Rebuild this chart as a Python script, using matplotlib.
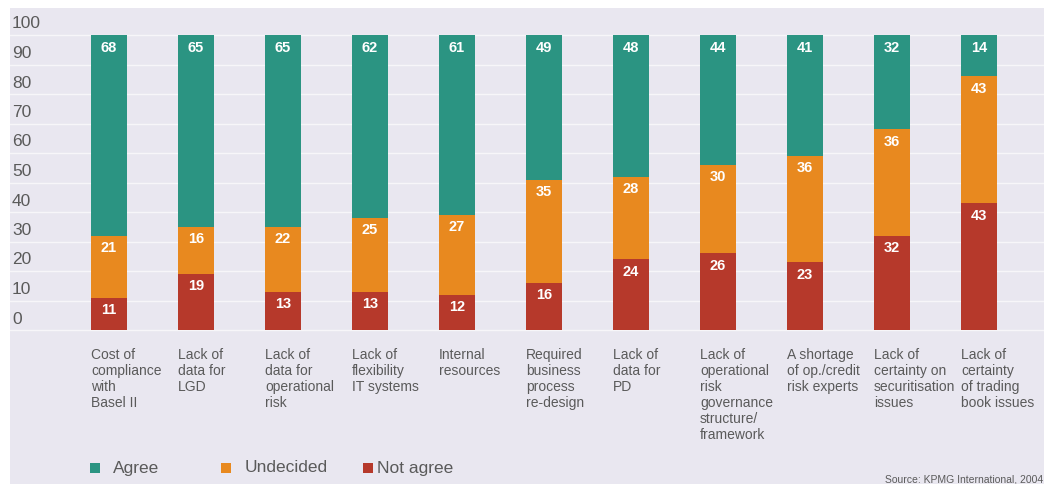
import matplotlib
matplotlib.use('Agg')
import matplotlib.pyplot as plt
import matplotlib.transforms as mtransforms
from matplotlib.patches import Rectangle
import numpy as np

plt.rcParams['font.family'] = ['Liberation Sans', 'DejaVu Sans']

# data
categories = ['Cost of\ncompliance\nwith\nBasel II',
              'Lack of\ndata for\nLGD',
              'Lack of\ndata for\noperational\nrisk',
              'Lack of\nflexibility\nIT systems',
              'Internal\nresources',
              'Required\nbusiness\nprocess\nre-design',
              'Lack of\ndata for\nPD',
              'Lack of\noperational\nrisk\ngovernance\nstructure/\nframework',
              'A shortage\nof op./credit\nrisk experts',
              'Lack of\ncertainty on\nsecuritisation\nissues',
              'Lack of\ncertainty\nof trading\nbook issues']
agree = [68, 65, 65, 62, 61, 49, 48, 44, 41, 32, 14]
undecided = [21, 16, 22, 25, 27, 35, 28, 30, 36, 36, 43]
not_agree = [11, 19, 13, 13, 12, 16, 24, 26, 23, 32, 43]
series_names = ['Agree', 'Undecided', 'Not agree']
yticks = [0, 10, 20, 30, 40, 50, 60, 70, 80, 90, 100]

# styles
c_agree = '#2b9482'
c_undec = '#e8891f'
c_notag = '#b6392b'
bg = '#e9e7f0'
txt = '#5a5a5a'

W, H = 1047, 484
fig = plt.figure(figsize=(W / 100, H / 100), dpi=100)
fig.patch.set_facecolor('white')

def fx(px):
    return px / W

def fy(py):
    return 1 - py / H

# scanned page panel (behind the axes)
fig.patches.append(Rectangle((fx(10), 0), fx(1044) - fx(10), fy(8),
                             transform=fig.transFigure, facecolor=bg,
                             edgecolor='none', zorder=-5))

ax = fig.add_axes([fx(10), fy(335), fx(1044) - fx(10), (335 - 8) / H])
ax.set_facecolor('none')
ax.set_xlim(-99 / 87, -99 / 87 + 1034 / 87)
ax.set_ylim(-5 / 2.95, 322 / 2.95)

x = np.arange(len(categories))
w = 0.415
b1 = ax.bar(x, not_agree, w, color=c_notag, zorder=3)
b2 = ax.bar(x, undecided, w, bottom=not_agree, color=c_undec, zorder=3)
bot3 = np.array(not_agree) + np.array(undecided)
b3 = ax.bar(x, agree, w, bottom=bot3, color=c_agree, zorder=3)

# value labels near the top of each segment
for bars in (b1, b2, b3):
    for r in bars:
        top = r.get_y() + r.get_height()
        ax.annotate(str(int(round(r.get_height()))),
                    (r.get_x() + r.get_width() / 2, top),
                    xytext=(0, -9), textcoords='offset points',
                    ha='center', va='center', color='white',
                    fontsize=10.5, fontweight='bold', zorder=4)

# grid
ax.set_yticks(yticks)
ax.yaxis.grid(True, color='white', lw=1.0, alpha=0.65, zorder=1)
ax.set_axisbelow(True)
ax.set_xticks([])
for s in ax.spines.values():
    s.set_visible(False)
ax.tick_params(axis='y', length=0, pad=0, labelsize=12.5, labelcolor=txt)
offset = mtransforms.ScaledTranslation(0.02, 0.125, fig.dpi_scale_trans)
for lab in ax.get_yticklabels():
    lab.set_horizontalalignment('left')
    lab.set_transform(lab.get_transform() + offset)

# category labels under bars
for i, cat in enumerate(categories):
    ax.text(i - w / 2, -6.0, cat, ha='left', va='top', fontsize=10,
            color=txt, linespacing=1.18, clip_on=False)

# legend
leg_sq = [90, 221, 363]
leg_tx = [113, 245, 377]
for sq, tx, name, col in zip(leg_sq, leg_tx, series_names,
                             [c_agree, c_undec, c_notag]):
    fig.patches.append(Rectangle((fx(sq), fy(473)), fx(10), 10 / H,
                                 transform=fig.transFigure, facecolor=col,
                                 edgecolor='none'))
    fig.text(fx(tx), fy(468), name, ha='left', va='center',
             fontsize=12.5, color=txt)

fig.text(fx(1043), fy(479), 'Source: KPMG International, 2004',
         ha='right', va='center', fontsize=7.5, color=txt)

fig.savefig('out.png', dpi=100)
